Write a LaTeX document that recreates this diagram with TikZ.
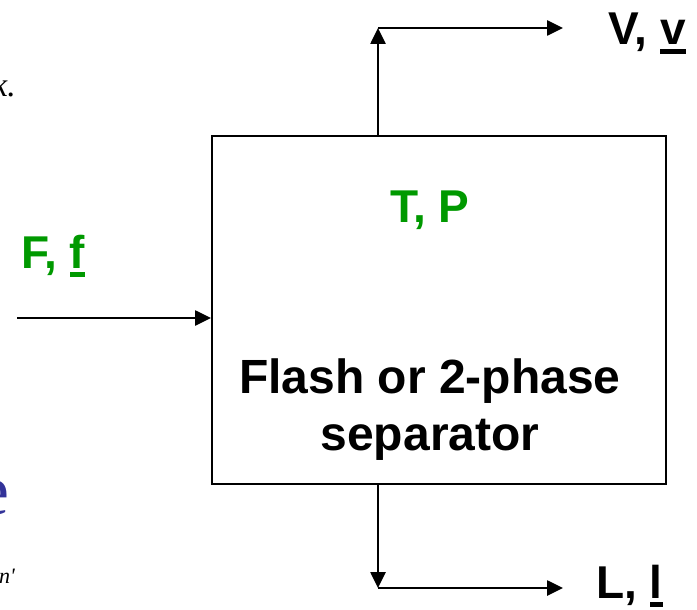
\documentclass[tikz,border=0pt]{standalone}
\usepackage{fontspec}
\setmainfont{Liberation Sans}
\newfontfamily\slideserif{Liberation Serif}
\usetikzlibrary{arrows.meta}
\definecolor{flashgreen}{RGB}{0,153,0}
\definecolor{slideblue}{RGB}{51,51,153}
\newcommand\streamvec[1]{\setbox0\hbox{#1}\rlap{\rule[-0.2em]{\wd0}{0.11em}}\box0}
\tikzset{
  flow/.style={line width=2.6pt,-{Triangle[length=16pt,width=15pt]}},
  label/.style={inner sep=0pt,font=\fontsize{46}{52}\selectfont\bfseries}
}
\begin{document}
\begin{tikzpicture}[x=1pt,y=-1pt]
  \useasboundingbox (0,0) rectangle (697,610);
  % left edge of the slide
  \node[inner sep=0pt,anchor=base east,font=\fontsize{34}{38}\selectfont\slideserif\itshape] (kdot) at (16,96) {k.};
  \node[inner sep=0pt,anchor=base east,text=slideblue,font=\fontsize{72}{80}\selectfont\slideserif] (bluee) at (10,514) {e};
  \node[inner sep=0pt,anchor=base east,font=\fontsize{22}{26}\selectfont\slideserif\itshape] (nprime) at (15,583) {n'};
  % separator
  \node[draw,line width=2pt,anchor=north west,minimum width=454pt,minimum height=348pt] (sep) at (211,135) {};
  \node[label,text=flashgreen,anchor=base] (tp) at (430,222) {T, P};
  \node[label,anchor=base,align=center,font=\fontsize{48}{57}\selectfont\bfseries] (name) at (430,450) {Flash or 2-phase\\separator};
  % feed
  \coordinate (feed) at (17,318);
  \node[label,text=flashgreen,anchor=base west] (flbl) at (21,268) {F, \streamvec{f}};
  \draw[flow] (feed) -- (feed -| sep.west);
  % vapour
  \coordinate (vtop) at (378,28);
  \coordinate (vend) at (563,28);
  \draw[flow] (sep.north -| vtop) -- (vtop);
  \draw[flow] (vtop) -- (vend);
  \node[label,anchor=base west] (vlbl) at (608,45) {V, \streamvec{v}};
  % liquid
  \coordinate (lbot) at (378,588);
  \coordinate (lend) at (563,588);
  \draw[flow] (sep.south -| lbot) -- (lbot);
  \draw[flow] (lbot) -- (lend);
  \node[label,anchor=base west] (llbl) at (596,598) {L, \streamvec{l}};
\end{tikzpicture}
\end{document}
